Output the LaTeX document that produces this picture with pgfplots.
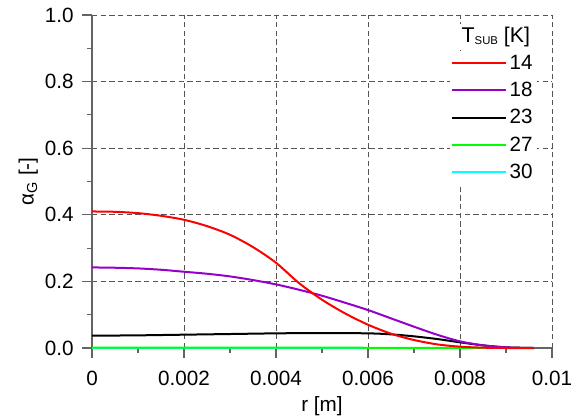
\documentclass[border=0pt]{standalone}
\usepackage{fontspec}
\setmainfont{Liberation Sans}
\usepackage{pgfplots}
\pgfplotsset{compat=1.18}
\usetikzlibrary{calc}

\definecolor{lineRed}{RGB}{255,0,0}
\definecolor{linePurple}{RGB}{150,0,200}
\definecolor{lineGreen}{RGB}{0,255,0}
\definecolor{lineCyan}{RGB}{0,255,255}
\definecolor{axisGray}{RGB}{100,100,100}
\definecolor{gridGray}{RGB}{85,85,85}

\begin{document}
\begin{tikzpicture}
\begin{axis}[
	scale only axis,
	width=345pt, height=249.75pt,
	xmin=0, xmax=0.01, ymin=0, ymax=1,
	axis x line*=bottom, axis y line*=left,
	axis line style={axisGray, line width=0.8pt},
	xtick={0,0.002,...,0.01},
	ytick={0,0.2,...,1.0},
	minor x tick num=1, minor y tick num=1,
	tick align=outside,
	major tick length=7.5pt, minor tick length=3.75pt,
	every tick/.style={axisGray, line width=0.8pt},
	grid=major,
	major grid style={gridGray, line width=0.7pt, dash pattern=on 4pt off 2.5pt},
	scaled x ticks=false, scaled y ticks=false,
	xticklabel style={yshift=-6.5pt, /pgf/number format/.cd, fixed, precision=3, assume math mode=true},
	yticklabel style={xshift=-2.7pt, /pgf/number format/.cd, fixed, fixed zerofill, precision=1, assume math mode=true},
	tick label style={font=\fontsize{15.5}{18}\selectfont},
	label style={font=\fontsize{15.5}{18}\selectfont},
	xlabel={r [m]},
	ylabel={α\textsubscript{G} [-]},
	xlabel style={yshift=-1pt},
	ylabel style={yshift=-1.5pt},
	clip=false,
	legend cell align=left,
	legend style={draw=none, fill=white, font=\fontsize{15.5}{18}\selectfont,
		at={(rel axis cs:0.967,0.892)}, anchor=north east,
		row sep=4.1pt, inner sep=1pt},
	legend image code/.code={\draw[#1] (0pt,0pt) -- (40.5pt,0pt);},
]
% legend entries in the reference order
\addlegendimage{lineRed, line width=1.5pt}\addlegendentry{14}
\addlegendimage{linePurple, line width=1.5pt}\addlegendentry{18}
\addlegendimage{black, line width=1.5pt}\addlegendentry{23}
\addlegendimage{lineGreen, line width=1.5pt}\addlegendentry{27}
\addlegendimage{lineCyan, line width=1.5pt}\addlegendentry{30}

% T_SUB = 30 K
\addplot[lineCyan, line width=1.5pt, forget plot] table {
0 0
0.0096 0
};
% T_SUB = 27 K
\addplot[lineGreen, line width=1.5pt, forget plot] table {
0 0.001
0.004 0.001
0.008 0.0005
0.0096 0
};
% T_SUB = 23 K
\addplot[black, line width=1.5pt, forget plot, smooth] table {
0 0.037
0.001 0.038
0.002 0.040
0.003 0.042
0.004 0.044
0.005 0.045
0.006 0.044
0.0065 0.041
0.007 0.035
0.0075 0.027
0.008 0.017
0.0085 0.008
0.009 0.002
0.0096 0.0
};
% T_SUB = 18 K
\addplot[linePurple, line width=1.5pt, forget plot, smooth] table {
0 0.242
0.0005 0.241
0.001 0.239
0.0015 0.235
0.002 0.229
0.0025 0.223
0.003 0.215
0.0035 0.204
0.004 0.191
0.0045 0.175
0.005 0.157
0.0055 0.136
0.006 0.114
0.0065 0.089
0.007 0.064
0.0075 0.040
0.008 0.020
0.0085 0.008
0.009 0.002
0.0096 0.0
};
% T_SUB = 14 K
\addplot[lineRed, line width=1.5pt, forget plot, smooth] table {
0 0.410
0.0005 0.409
0.001 0.405
0.0015 0.397
0.002 0.385
0.0025 0.366
0.003 0.340
0.0035 0.303
0.004 0.256
0.0045 0.195
0.005 0.145
0.0055 0.104
0.006 0.070
0.0065 0.043
0.007 0.024
0.0075 0.011
0.008 0.004
0.0085 0.001
0.009 0.0
0.0096 0.0
};
\node[fill=white, inner sep=2pt, font=\fontsize{16}{19}\selectfont]
	at (rel axis cs:0.878,0.934) {T{\fontsize{8.5}{10}\selectfont\raisebox{-0.35ex}{SUB}} [K]};
\end{axis}
\pgfresetboundingbox
\path ($(current axis.south west)+(-69pt,-52.5pt)$) rectangle ($(current axis.north east)+(18.75pt,11.25pt)$);
\end{tikzpicture}
\end{document}
